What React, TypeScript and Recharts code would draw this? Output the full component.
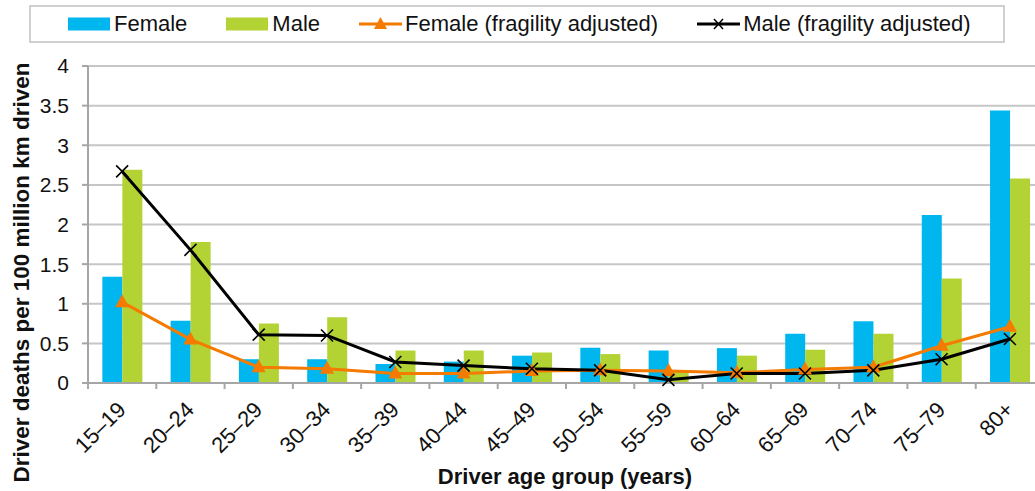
import React from "react";
import {
  ComposedChart,
  Bar,
  Line,
  XAxis,
  YAxis,
  CartesianGrid,
  Legend,
  Label,
} from "recharts";

const categories = [
  "15–19", "20–24", "25–29", "30–34", "35–39", "40–44", "45–49",
  "50–54", "55–59", "60–64", "65–69", "70–74", "75–79", "80+",
];
const female = [1.34, 0.785, 0.3, 0.3, 0.24, 0.27, 0.345, 0.445, 0.41, 0.44, 0.62, 0.78, 2.12, 3.44];
const male = [2.69, 1.78, 0.75, 0.83, 0.41, 0.41, 0.385, 0.365, 0.15, 0.345, 0.42, 0.62, 1.32, 2.58];
const femaleAdj = [1.02, 0.55, 0.2, 0.18, 0.12, 0.12, 0.15, 0.16, 0.15, 0.13, 0.17, 0.2, 0.47, 0.71];
const maleAdj = [2.67, 1.68, 0.61, 0.6, 0.265, 0.22, 0.18, 0.16, 0.04, 0.12, 0.12, 0.16, 0.3, 0.555];
const yTicks = [0, 0.5, 1, 1.5, 2, 2.5, 3, 3.5, 4];

const data = categories.map((c, i) => ({
  name: c,
  female: female[i],
  male: male[i],
  femaleAdj: femaleAdj[i],
  maleAdj: maleAdj[i],
}));

const FONT = "'Liberation Sans', Arial, sans-serif";
const BLUE = "#00B6EF";
const GREEN = "#B3D334";
const ORANGE = "#F47A00";
const AXIS = "#A6A6A6";
const GRID = "#C6C6C6";

const TriangleDot = (props: any) => {
  const { cx, cy, index } = props;
  if (cx == null || cy == null) return <g key={index} />;
  return (
    <polygon
      key={index}
      points={`${cx},${cy - 8} ${cx - 7},${cy + 5} ${cx + 7},${cy + 5}`}
      fill={ORANGE}
    />
  );
};

const CrossDot = (props: any) => {
  const { cx, cy, index } = props;
  if (cx == null || cy == null) return <g key={index} />;
  const s = 6;
  return (
    <g key={index}>
      <line x1={cx - s} y1={cy - s} x2={cx + s} y2={cy + s} stroke="#000" strokeWidth={1.6} />
      <line x1={cx - s} y1={cy + s} x2={cx + s} y2={cy - s} stroke="#000" strokeWidth={1.6} />
    </g>
  );
};

const XTick = (props: any) => {
  const { x, y, payload } = props;
  const off = payload && payload.offset != null ? payload.offset : 34;
  return (
    <g>
      <line x1={x - off} x2={x - off} y1={y - 6} y2={y} stroke={AXIS} strokeWidth={2} />
      <text
        transform={`translate(${x + 5},${y + 22}) rotate(-45)`}
        textAnchor="end"
        fontFamily={FONT}
        fontSize={22}
        fill="#111"
      >
        {payload.value}
      </text>
    </g>
  );
};

const legendItems = [
  { label: "Female", kind: "bar", color: BLUE },
  { label: "Male", kind: "bar", color: GREEN },
  { label: "Female (fragility adjusted)", kind: "tri", color: ORANGE },
  { label: "Male (fragility adjusted)", kind: "x", color: "#000" },
];

const LegendContent = () => (
  <div
    style={{
      boxSizing: "border-box",
      width: 976,
      height: 38,
      border: "2px solid #D0D0D0",
      display: "flex",
      alignItems: "center",
      paddingLeft: 37,
      fontFamily: FONT,
      fontSize: 22,
      color: "#111",
      background: "#fff",
    }}
  >
    {legendItems.map((it, i) => (
      <div key={i} style={{ display: "flex", alignItems: "center", marginRight: 39 }}>
        <svg width={43} height={16} style={{ marginRight: 3 }}>
          {it.kind === "bar" ? (
            <rect x={0} y={1.5} width={42} height={13} fill={it.color} />
          ) : (
            <g>
              <line x1={0} x2={43} y1={8} y2={8} stroke={it.color} strokeWidth={3} />
              {it.kind === "tri" ? (
                <polygon points="21.5,1 15,13 28,13" fill={ORANGE} />
              ) : (
                <g>
                  <line x1={17} y1={3} x2={26} y2={13} stroke="#000" strokeWidth={1.5} />
                  <line x1={17} y1={13} x2={26} y2={3} stroke="#000" strokeWidth={1.5} />
                </g>
              )}
            </g>
          )}
        </svg>
        <span style={{ whiteSpace: "nowrap", lineHeight: "22px" }}>{it.label}</span>
      </div>
    ))}
  </div>
);

const YTitle = (props: any) => {
  const vb = props.viewBox || { x: 0, y: 66, width: 88, height: 317 };
  const cx = vb.x + 21;
  const cy = vb.y + vb.height / 2 + 48;
  return (
    <text
      transform={`translate(${cx},${cy}) rotate(-90)`}
      textAnchor="middle"
      dominantBaseline="central"
      fontFamily={FONT}
      fontWeight="bold"
      fontSize={22.5}
      fill="#111"
    >
      Driver deaths per 100 million km driven
    </text>
  );
};

const XTitle = (props: any) => {
  const vb = props.viewBox || { x: 88, y: 383, width: 956, height: 108 };
  return (
    <text
      x={vb.x + vb.width / 2 - 1}
      y={vb.y + 101}
      textAnchor="middle"
      fontFamily={FONT}
      fontWeight="bold"
      fontSize={22}
      fill="#111"
    >
      Driver age group (years)
    </text>
  );
};

export default function App() {
  return (
    <div
      style={{
        position: "absolute",
        left: 0,
        top: 0,
        width: 1035,
        height: 491,
        overflow: "hidden",
        background: "#fff",
      }}
    >
      <ComposedChart
        width={1050}
        height={491}
        data={data}
        margin={{ top: 66, right: 6, bottom: 0, left: 0 }}
        barCategoryGap="21%"
        barGap={0}
      >
        <CartesianGrid vertical={false} stroke={GRID} strokeWidth={2} />
        <XAxis
          dataKey="name"
          height={108}
          tickLine={false}
          tickSize={6}
          tickMargin={0}
          axisLine={{ stroke: AXIS, strokeWidth: 2 }}
          tick={<XTick />}
          interval={0}
        >
          <Label content={<XTitle />} />
        </XAxis>
        <YAxis
          width={88}
          domain={[0, 4]}
          ticks={yTicks}
          tickSize={6}
          tickMargin={13}
          tickLine={{ stroke: AXIS, strokeWidth: 2 }}
          axisLine={{ stroke: AXIS, strokeWidth: 2 }}
          tick={{ fontFamily: FONT, fontSize: 21, fill: "#111" }}
          tickFormatter={(v: number) => String(v)}
        >
          <Label content={<YTitle />} />
        </YAxis>
        <Legend
          verticalAlign="middle"
          layout="horizontal"
          content={<LegendContent />}
          wrapperStyle={{ position: "absolute", top: 5, left: 29, width: 976, height: 38 }}
        />
        <Bar dataKey="female" name="Female" fill={BLUE} isAnimationActive={false} />
        <Bar dataKey="male" name="Male" fill={GREEN} isAnimationActive={false} />
        <Line
          dataKey="femaleAdj"
          name="Female (fragility adjusted)"
          stroke={ORANGE}
          strokeWidth={3}
          dot={<TriangleDot />}
          activeDot={false}
          isAnimationActive={false}
        />
        <Line
          dataKey="maleAdj"
          name="Male (fragility adjusted)"
          stroke="#000"
          strokeWidth={3}
          dot={<CrossDot />}
          activeDot={false}
          isAnimationActive={false}
        />
      </ComposedChart>
    </div>
  );
}
